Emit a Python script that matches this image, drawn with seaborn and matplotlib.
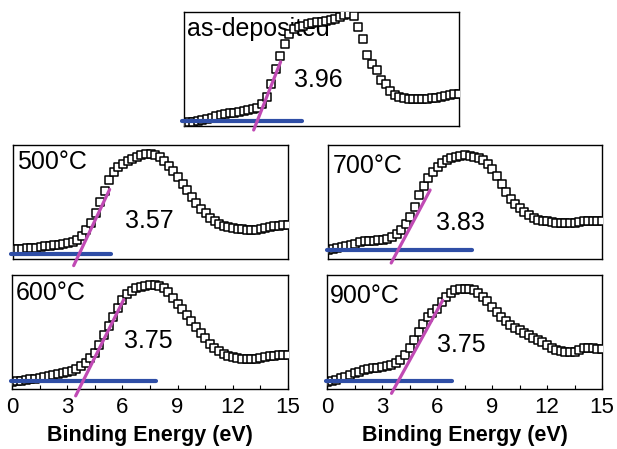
import numpy as np
import pandas as pd
import seaborn as sns
import matplotlib.pyplot as plt
from matplotlib.ticker import MultipleLocator

# binding energy grid (eV), 0.25 eV steps
energy = np.linspace(0, 15, 61)

# normalised valence-band intensity
int_asdep = [0.030, 0.032, 0.035, 0.040, 0.050, 0.060, 0.072, 0.085, 0.096, 0.104,
             0.111, 0.118, 0.125, 0.132, 0.140, 0.148, 0.160, 0.190, 0.257, 0.370,
             0.500, 0.610, 0.723, 0.808, 0.850, 0.868, 0.880, 0.898, 0.905, 0.910,
             0.913, 0.920, 0.930, 0.942, 0.960, 0.975, 0.980, 0.968, 0.870, 0.760,
             0.620, 0.545, 0.490, 0.405, 0.365, 0.310, 0.275, 0.255, 0.245, 0.240,
             0.237, 0.235, 0.233, 0.236, 0.242, 0.250, 0.257, 0.263, 0.270, 0.278,
             0.285]
int_500 = [0.085, 0.087, 0.090, 0.093, 0.096, 0.100, 0.105, 0.110, 0.116, 0.121,
           0.127, 0.133, 0.140, 0.152, 0.170, 0.205, 0.256, 0.320, 0.400, 0.500,
           0.600, 0.690, 0.760, 0.805, 0.837, 0.860, 0.880, 0.897, 0.910, 0.920,
           0.924, 0.915, 0.895, 0.862, 0.820, 0.772, 0.720, 0.662, 0.605, 0.545,
           0.490, 0.442, 0.400, 0.362, 0.330, 0.307, 0.290, 0.278, 0.270, 0.264,
           0.259, 0.256, 0.255, 0.258, 0.265, 0.272, 0.280, 0.287, 0.293, 0.297,
           0.300]
int_700 = [0.080, 0.088, 0.097, 0.106, 0.116, 0.125, 0.135, 0.145, 0.154, 0.158,
           0.162, 0.166, 0.170, 0.178, 0.190, 0.215, 0.256, 0.305, 0.370, 0.460,
           0.560, 0.640, 0.710, 0.765, 0.810, 0.842, 0.866, 0.882, 0.895, 0.905,
           0.910, 0.906, 0.895, 0.882, 0.866, 0.832, 0.790, 0.725, 0.660, 0.592,
           0.530, 0.485, 0.445, 0.413, 0.387, 0.363, 0.343, 0.335, 0.330, 0.324,
           0.318, 0.315, 0.314, 0.316, 0.320, 0.326, 0.330, 0.333, 0.335, 0.336,
           0.337]
int_600 = [0.065, 0.068, 0.072, 0.078, 0.085, 0.092, 0.100, 0.108, 0.115, 0.122,
           0.130, 0.138, 0.148, 0.160, 0.178, 0.200, 0.232, 0.270, 0.320, 0.390,
           0.470, 0.550, 0.630, 0.710, 0.780, 0.830, 0.862, 0.882, 0.895, 0.903,
           0.908, 0.910, 0.905, 0.885, 0.850, 0.800, 0.750, 0.700, 0.650, 0.598,
           0.545, 0.495, 0.445, 0.398, 0.360, 0.330, 0.305, 0.288, 0.277, 0.270,
           0.265, 0.262, 0.260, 0.262, 0.268, 0.278, 0.288, 0.292, 0.295, 0.296,
           0.297]
int_900 = [0.064, 0.072, 0.080, 0.094, 0.108, 0.122, 0.137, 0.152, 0.166, 0.173,
           0.180, 0.188, 0.195, 0.202, 0.210, 0.228, 0.254, 0.300, 0.356, 0.430,
           0.500, 0.568, 0.630, 0.670, 0.705, 0.760, 0.810, 0.845, 0.866, 0.876,
           0.880, 0.877, 0.866, 0.842, 0.810, 0.768, 0.720, 0.675, 0.630, 0.593,
           0.560, 0.537, 0.516, 0.493, 0.470, 0.450, 0.430, 0.408, 0.385, 0.362,
           0.340, 0.332, 0.327, 0.326, 0.327, 0.345, 0.364, 0.360, 0.356, 0.353,
           0.350]

labels = ["as-deposited", "500\u00b0C", "700\u00b0C", "600\u00b0C", "900\u00b0C"]
gaps = ["3.96", "3.57", "3.83", "3.75", "3.75"]

# leading-edge tangent and baseline (eV, intensity)
tangent_x = [[3.80, 5.27], [3.31, 5.27], [3.46, 5.59], [3.46, 6.07], [3.52, 6.31]]
tangent_y = [[-0.035, 0.563], [-0.058, 0.61], [-0.035, 0.605], [-0.06, 0.784], [-0.038, 0.778]]
base_x = [[-0.11, 6.45], [-0.09, 5.36], [-0.05, 7.86], [-0.07, 7.80], [-0.04, 6.80]]
base_y = [0.047, 0.047, 0.08, 0.07, 0.07]

spectra = [int_asdep, int_500, int_700, int_600, int_900]

sns.set_style("white")
plt.rcParams["font.family"] = ["Liberation Sans", "DejaVu Sans"]
plt.rcParams["text.color"] = "black"
plt.rcParams["axes.labelcolor"] = "black"
plt.rcParams["xtick.color"] = "black"

W, H = 617, 449
fig = plt.figure(figsize=(W / 100, H / 100), dpi=100)

# panel boxes in pixels: left, top, right, bottom
boxes = [(184, 12, 459, 126), (13, 145, 288, 259), (328, 145, 602, 259),
         (12, 275, 288, 389), (327, 275, 602, 389)]
label_pos = [(0.012, 0.85), (0.014, 0.85), (0.016, 0.82), (0.012, 0.84), (0.012, 0.82)]
gap_pos = [(7.3, 0.40), (7.45, 0.33), (7.23, 0.314), (7.4, 0.42), (7.35, 0.385)]

for i, (l, t, r, b) in enumerate(boxes):
    ax = fig.add_axes([l / W, (H - b) / H, (r - l) / W, (b - t) / H])
    df = pd.DataFrame({"E": energy, "I": spectra[i]})
    sns.scatterplot(data=df, x="E", y="I", marker="s", s=34, facecolor="white",
                    edgecolor="black", linewidth=1.1, ax=ax, zorder=3)
    sns.lineplot(x=base_x[i], y=[base_y[i], base_y[i]], color="#2f4ea6", lw=3,
                 solid_capstyle="round", clip_on=False, ax=ax, zorder=4)
    sns.lineplot(x=tangent_x[i], y=tangent_y[i], color="#c04ab4", lw=2.3,
                 clip_on=False, ax=ax, zorder=5)
    ax.text(label_pos[i][0], label_pos[i][1], labels[i], transform=ax.transAxes,
            fontsize=18, ha="left", va="center", zorder=1)
    ax.text(gap_pos[i][0], gap_pos[i][1], gaps[i], fontsize=18, ha="center",
            va="center", zorder=6)
    ax.set_xlim(0, 15)
    ax.set_ylim(0, 1)
    ax.set_yticks([])
    ax.set_ylabel("")
    for sp in ax.spines.values():
        sp.set_linewidth(1.0)
        sp.set_color("black")
    if i >= 3:
        ax.xaxis.set_major_locator(MultipleLocator(3))
        ax.xaxis.set_minor_locator(MultipleLocator(1.5))
        ax.tick_params(axis="x", which="both", direction="in", bottom=True,
                       length=3, width=0.8, labelsize=16, pad=6)
        ax.set_xlabel("Binding Energy (eV)", fontsize=15.5, fontweight="bold",
                      labelpad=5)
    else:
        ax.set_xticks([])
        ax.set_xlabel("")

fig.savefig("out.png", dpi=100)
